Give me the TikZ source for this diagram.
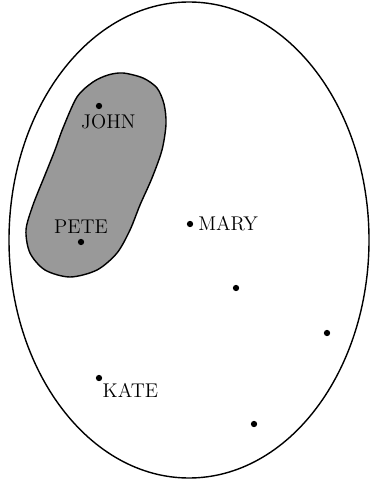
\documentclass[tikz,border=0pt]{standalone}
\usepackage{tikz}
\usetikzlibrary{positioning}

\begin{document}
\begin{tikzpicture}[
  x=0.02cm, y=-0.02cm,
  font=\fontsize{11.3}{13}\selectfont,
  elem/.style={circle, fill=black, inner sep=0pt, minimum size=3.6pt},
  tag/.style={inner sep=1.5pt},
  set/.style={line width=0.8pt}
]
\useasboundingbox (0,0) rectangle (371,479);

%% ── Universe ────────────────────────────────────────────────────────
\draw[set] (189,240) ellipse [x radius=180, y radius=238];

%% ── Shaded subset ───────────────────────────────────────────────────
\draw[set, fill=black!40] plot[smooth cycle] coordinates {
  (123,73) (143,78) (157,88) (164,104) (166,124) (162,150) (152,178)
  (140,205) (130,230) (117,253) (97,270) (70,277) (45,270) (30,253)
  (26,230) (33,205) (45,175) (55,150) (63,128) (77,97) (93,82) (108,75)
};

%% ── Elements ────────────────────────────────────────────────────────
\node[elem] (john) at (99,106)  {};
\node[elem] (pete) at (81,242)  {};
\node[elem] (mary) at (190,224) {};
\node[elem] (kate) at (99,378)  {};
\node[elem] (e1)   at (236,288) {};
\node[elem] (e2)   at (327,333) {};
\node[elem] (e3)   at (254,424) {};

%% ── Labels ──────────────────────────────────────────────────────────
\node[tag, below=1pt of john, xshift=5.3pt]  (johnl) {JOHN};
\node[tag, above=1pt of pete]                (petel) {PETE};
\node[tag, right=1pt of mary]                (maryl) {MARY};
\node[tag, below right=0pt and -1pt of kate] (katel) {KATE};

\end{tikzpicture}
\end{document}
